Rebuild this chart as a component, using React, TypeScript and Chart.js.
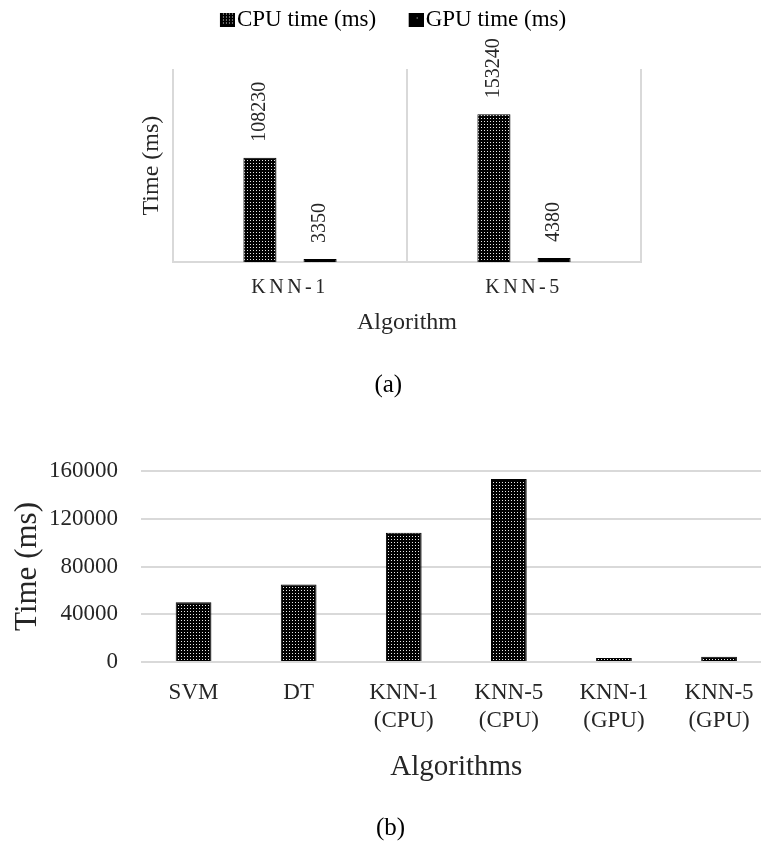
import React, { useEffect, useRef } from 'react';
import { Chart, registerables } from 'chart.js';

Chart.register(...registerables);

const SERIF = "'Times New Roman', 'Liberation Serif', serif";

// ---- Chart (a) data ----
const groupCategories = ['KNN-1', 'KNN-5'];
const seriesNames = ['CPU time (ms)', 'GPU time (ms)'];
const cpuTimes = [108230, 153240];
const gpuTimes = [3350, 4380];

// ---- Chart (b) data ----
const algoLabels: (string | string[])[] = [
  'SVM',
  'DT',
  ['KNN-1', '(CPU)'],
  ['KNN-5', '(CPU)'],
  ['KNN-1', '(GPU)'],
  ['KNN-5', '(GPU)'],
];
const algoTimes = [50000, 65000, 108230, 153240, 3350, 4380];
const timeTicks = [0, 40000, 80000, 120000, 160000];

function makeTile(size: number, dots: [number, number][]) {
  const c = document.createElement('canvas');
  c.width = size;
  c.height = size;
  const g = c.getContext('2d')!;
  g.fillStyle = '#000';
  g.fillRect(0, 0, size, size);
  g.fillStyle = '#e8e8e8';
  dots.forEach(([x, y]) => g.fillRect(x, y, 1, 1));
  return c;
}

function makePattern(ctx: CanvasRenderingContext2D, size: number, dots: [number, number][]) {
  return ctx.createPattern(makeTile(size, dots), 'repeat')!;
}

// legend swatch image: box drawn at the right part so it sits close to the text
function makeSwatch(size: number, dots: [number, number][]) {
  const w = 34;
  const h = 14;
  const c = document.createElement('canvas');
  c.width = w;
  c.height = h;
  const g = c.getContext('2d')!;
  const pat = g.createPattern(makeTile(size, dots), 'repeat')!;
  g.fillStyle = pat;
  g.fillRect(w - 15, 0, 15, h);
  g.strokeStyle = '#000';
  g.lineWidth = 1;
  g.strokeRect(w - 15 + 0.5, 0.5, 14, h - 1);
  return c;
}

const legendSpacer = (h: number) => ({
  id: 'legendSpacer',
  beforeInit(chart: any) {
    const legend = chart.legend;
    if (!legend) return;
    const orig = legend.fit;
    legend.fit = function () {
      orig.call(this);
      this.height = h;
    };
  },
});

const barValueLabels = {
  id: 'barValueLabels',
  afterDatasetsDraw(chart: any) {
    const ctx = chart.ctx as CanvasRenderingContext2D;
    ctx.save();
    ctx.font = `20px ${SERIF}`;
    ctx.fillStyle = '#262626';
    ctx.textAlign = 'left';
    ctx.textBaseline = 'middle';
    chart.data.datasets.forEach((ds: any, di: number) => {
      const meta = chart.getDatasetMeta(di);
      meta.data.forEach((bar: any, i: number) => {
        ctx.save();
        ctx.translate(bar.x, bar.y - 16);
        ctx.rotate(-Math.PI / 2);
        ctx.fillText(String(ds.data[i]), 0, 0);
        ctx.restore();
      });
    });
    ctx.restore();
    (ctx as any).letterSpacing = '3.5px';
  },
  afterDraw(chart: any) {
    (chart.ctx as any).letterSpacing = '0px';
  },
};

export default function App() {
  const aRef = useRef<HTMLCanvasElement>(null);
  const bRef = useRef<HTMLCanvasElement>(null);

  useEffect(() => {
    const ctxA = aRef.current!.getContext('2d')!;
    const ctxB = bRef.current!.getContext('2d')!;
    const cpuDots: [number, number][] = [[1, 1]];
    const gpuDots: [number, number][] = [[3, 2], [7, 6]];
    const cpuPat = makePattern(ctxA, 3, cpuDots);
    const gpuPat = makePattern(ctxA, 8, gpuDots);
    const barPatB = makePattern(ctxB, 3, cpuDots);
    const swatches = [makeSwatch(3, cpuDots), makeSwatch(8, [[3, 5]])];

    const chartA = new Chart(ctxA, {
      type: 'bar',
      data: {
        labels: groupCategories,
        datasets: [
          {
            label: seriesNames[0],
            data: cpuTimes,
            backgroundColor: cpuPat as any,
            borderColor: '#000',
            borderWidth: 1,
            categoryPercentage: 0.514,
            barPercentage: 0.55,
          },
          {
            label: seriesNames[1],
            data: gpuTimes,
            backgroundColor: gpuPat as any,
            borderColor: '#000',
            borderWidth: 1,
            categoryPercentage: 0.514,
            barPercentage: 0.55,
          },
        ],
      },
      options: {
        animation: false,
        responsive: false,
        layout: { padding: { left: 135.6, right: 120, top: -15, bottom: 0 } },
        plugins: {
          legend: {
            position: 'top',
            labels: {
              usePointStyle: true,
              boxWidth: 15,
              boxHeight: 14,
              padding: 23,
              color: '#000',
              font: { family: SERIF, size: 23 },
              generateLabels: (chart: any) => {
                const items = Chart.defaults.plugins.legend.labels.generateLabels(chart);
                return items.map((it: any, i: number) => ({ ...it, pointStyle: swatches[i], rotation: 0 }));
              },
            },
          },
          title: {
            display: true,
            position: 'bottom',
            text: '(a)',
            color: '#000',
            font: { family: SERIF, size: 25, weight: 'normal' },
            padding: { top: 33, bottom: 0 },
          },
          tooltip: { enabled: false },
        },
        scales: {
          x: {
            afterFit: (s: any) => {
              s.height = 74.8;
            },
            grid: { display: true, color: '#d9d9d9', lineWidth: 2, drawTicks: false, offset: true },
            border: { display: true, color: '#d9d9d9', width: 2 },
            ticks: {
              padding: 14,
              color: '#262626',
              font: { family: SERIF, size: 20 },
              maxRotation: 0,
              z: 1,
            },
            title: {
              display: true,
              text: 'Algorithm',
              color: '#262626',
              font: { family: SERIF, size: 24 },
              padding: { top: 8, bottom: 0 },
            },
          },
          y: {
            min: 0,
            max: 200000,
            afterFit: (s: any) => {
              s.width = 37.4;
            },
            grid: { display: false, drawTicks: false },
            border: { display: false },
            ticks: { display: false },
            title: {
              display: true,
              text: 'Time (ms)',
              color: '#262626',
              font: { family: SERIF, size: 24 },
              padding: { top: 1.5, bottom: 7.1 },
            },
          },
        },
      } as any,
      plugins: [legendSpacer(84), barValueLabels],
    });

    const chartB = new Chart(ctxB, {
      type: 'bar',
      data: {
        labels: algoLabels,
        datasets: [
          {
            label: 'Time (ms)',
            data: algoTimes,
            backgroundColor: barPatB as any,
            borderColor: '#000',
            borderWidth: 1,
            categoryPercentage: 1,
            barPercentage: 0.34,
          },
        ],
      },
      options: {
        animation: false,
        responsive: false,
        layout: { padding: { left: 9.4, right: 28.4, top: 71, bottom: 0 } },
        plugins: {
          legend: { display: false },
          tooltip: { enabled: false },
          title: {
            display: true,
            position: 'bottom',
            text: '(b)',
            color: '#000',
            font: { family: SERIF, size: 25, weight: 'normal' },
            padding: { top: 28.6, bottom: 0 },
          },
        },
        scales: {
          x: {
            afterFit: (s: any) => {
              s.height = 122.4;
            },
            grid: { display: false, drawTicks: false },
            border: { display: false },
            ticks: {
              padding: 17.2,
              color: '#262626',
              font: { family: SERIF, size: 23 },
              maxRotation: 0,
              autoSkip: false,
            },
            title: {
              display: true,
              text: 'Algorithms',
              color: '#262626',
              font: { family: SERIF, size: 29 },
              padding: { top: 15.2, bottom: 0 },
            },
          },
          y: {
            min: timeTicks[0],
            max: timeTicks[timeTicks.length - 1],
            afterFit: (s: any) => {
              s.width = 131.6;
            },
            afterBuildTicks: (scale: any) => {
              scale.ticks = timeTicks.map((v) => ({ value: v }));
            },
            ticks: {
              padding: 23,
              color: '#262626',
              font: { family: SERIF, size: 23 },
              callback: (v: any) => String(v),
            },
            grid: { color: '#d9d9d9', lineWidth: 2, drawTicks: false },
            border: { display: false },
            title: {
              display: true,
              text: 'Time (ms)',
              color: '#262626',
              font: { family: SERIF, size: 31 },
              padding: { top: 0, bottom: 2.4 },
            },
          },
        },
      } as any,
    });

    return () => {
      chartA.destroy();
      chartB.destroy();
    };
  }, []);

  return (
    <div
      style={{
        position: 'fixed',
        left: 0,
        top: 0,
        width: 761,
        height: 842,
        overflow: 'hidden',
        background: '#fff',
      }}
    >
      <canvas ref={aRef} width={761} height={400} style={{ position: 'absolute', left: 0, top: 0 }} />
      <canvas ref={bRef} width={800} height={443} style={{ position: 'absolute', left: 0, top: 400 }} />
    </div>
  );
}
